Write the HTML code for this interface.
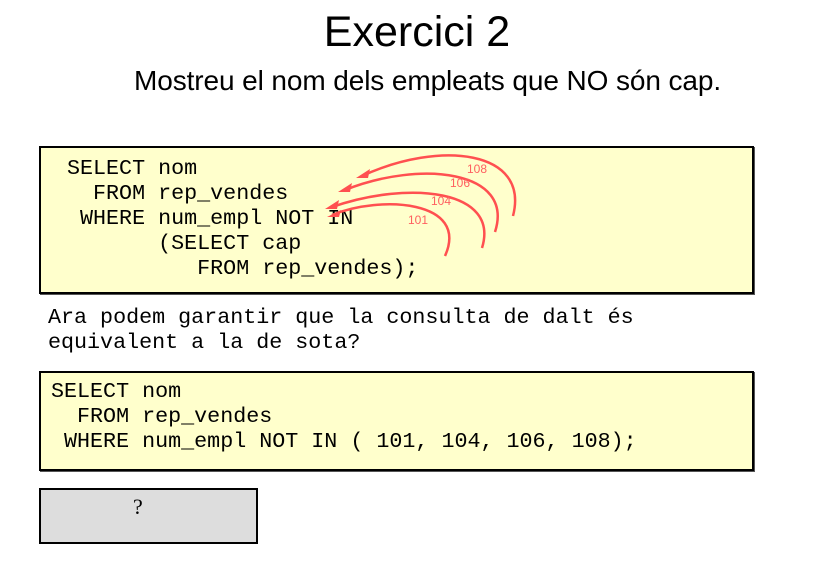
<!DOCTYPE html>
<html><head><meta charset="utf-8"><style>
body{margin:0;width:822px;height:580px;background:#fff;position:relative;overflow:hidden;font-family:"Liberation Sans",sans-serif}
.t{position:absolute;white-space:pre;line-height:1}
.m{font-family:"Liberation Mono","DejaVu Sans Mono",monospace;font-size:21.7px;color:#000}
.box{position:absolute;background:#ffffcc;border:2px solid #000;box-sizing:border-box;box-shadow:1px 1px 0 #555}
</style></head><body>
<div class="t" style="left:0;width:834px;text-align:center;top:11px;font-size:43px">Exercici 2</div>
<div class="t" style="left:134px;top:67px;font-size:28px;letter-spacing:-0.1px">Mostreu el nom dels empleats que NO són cap.</div>

<div class="box" style="left:39px;top:146px;width:715px;height:148px"></div>
<div class="t m" style="left:67px;top:158px">SELECT nom</div>
<div class="t m" style="left:67px;top:183px">  FROM rep_vendes</div>
<div class="t m" style="left:67px;top:208px"> WHERE num_empl NOT IN</div>
<div class="t m" style="left:67px;top:233px">       (SELECT cap</div>
<div class="t m" style="left:67px;top:258px">          FROM rep_vendes);</div>

<svg style="position:absolute;left:0;top:0" width="822" height="580">
<g fill="none" stroke="#ff5050" stroke-width="2.5">
<path d="M513,216 C530,150 440,140 362,176"/>
<path d="M495,232 C515,170 420,160 345,190"/>
<path d="M482,248 C500,190 410,180 332,207"/>
<path d="M445,256 C470,200 380,195 332,215"/>
</g>
<g fill="#ff5050">
<polygon points="356,178 370,169 368,178"/>
<polygon points="338,192 352,183 350,192"/>
<polygon points="325,209 339,200 337,209"/>
<polygon points="327,217 341,210 339,217"/>
</g>
<g fill="#ff6060" font-family="Liberation Sans,sans-serif" font-size="12">
<text x="467" y="173">108</text>
<text x="450" y="187">106</text>
<text x="431" y="205">104</text>
<text x="408" y="224">101</text>
</g>
</svg>

<div class="t m" style="left:48px;top:307px">Ara podem garantir que la consulta de dalt és</div>
<div class="t m" style="left:48px;top:332px">equivalent a la de sota?</div>

<div class="box" style="left:39px;top:371px;width:715px;height:100px"></div>
<div class="t m" style="left:51px;top:381px">SELECT nom</div>
<div class="t m" style="left:51px;top:406px">  FROM rep_vendes</div>
<div class="t m" style="left:51px;top:431px"> WHERE num_empl NOT IN ( 101, 104, 106, 108);</div>

<div class="box" style="left:39px;top:488px;width:219px;height:56px;background:#dddddd;box-shadow:none"></div>
<div class="t" style="left:133px;top:496px;font-family:'Liberation Serif',serif;font-size:22px">?</div>
</body></html>
